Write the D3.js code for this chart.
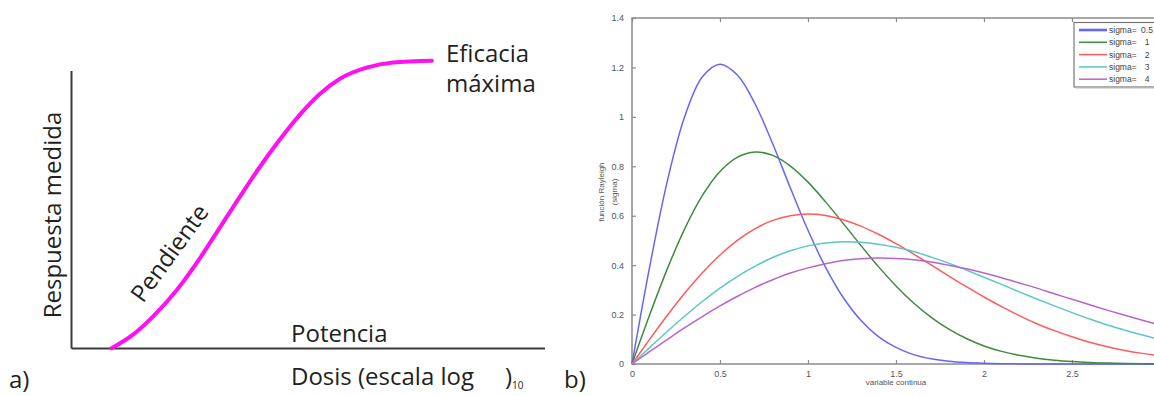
<!DOCTYPE html>
<html>
<head>
<meta charset="utf-8">
<script src="https://cdn.jsdelivr.net/npm/d3@7"></script>
<style>
  body { margin: 0; background: #fff; }
  svg { display: block; }
</style>
</head>
<body>
<div id="chart"></div>
<script>
// ---- panel a: curva dosis-respuesta (unidades arbitrarias 0..100)
const dosis = [8.45, 13.0, 17.2, 22.2, 27.1, 31.3, 35.6, 39.8, 44.0, 48.2, 52.5, 56.7, 62.3, 67.9, 76.1];
const respuesta = [0.1, 5.0, 11.5, 21.0, 32.5, 43.5, 54.8, 65.5, 75.3, 84.2, 91.8, 97.2, 101.2, 103.1, 103.7];

// ---- panel b: funcion Rayleigh
const variable = [0, 0.1, 0.2, 0.3, 0.4, 0.5, 0.6, 0.7, 0.8, 0.9, 1.0, 1.1, 1.2, 1.3, 1.4, 1.5,
  1.6, 1.7, 1.8, 1.9, 2.0, 2.1, 2.2, 2.3, 2.4, 2.5, 2.6, 2.7, 2.8, 2.9, 3.0];
const sigma05 = [0, 0.392, 0.738, 1.002, 1.162, 1.213, 1.168, 1.051, 0.890, 0.712, 0.541, 0.391, 0.269, 0.177, 0.111, 0.067,
  0.038, 0.021, 0.011, 0.0056, 0.0027, 0.0012, 0.0005, 0.0002, 0.0001, 0, 0, 0, 0, 0, 0];
const sigma1 = [0, 0.198, 0.384, 0.548, 0.682, 0.779, 0.837, 0.858, 0.844, 0.801, 0.736, 0.656, 0.569, 0.480, 0.394, 0.316,
  0.247, 0.189, 0.141, 0.103, 0.073, 0.051, 0.035, 0.023, 0.015, 0.0097, 0.006, 0.0037, 0.0022, 0.0013, 0.0007];
const sigma2 = [0, 0.0995, 0.196, 0.287, 0.369, 0.441, 0.501, 0.548, 0.581, 0.600, 0.6065, 0.601, 0.584, 0.558, 0.525, 0.487,
  0.445, 0.401, 0.356, 0.313, 0.271, 0.232, 0.196, 0.163, 0.135, 0.110, 0.088, 0.070, 0.055, 0.043, 0.033];
const sigma3 = [0, 0.0664, 0.1316, 0.194, 0.253, 0.307, 0.355, 0.396, 0.431, 0.458, 0.478, 0.490, 0.495, 0.493, 0.485, 0.472,
  0.455, 0.4325, 0.408, 0.380, 0.351, 0.322, 0.292, 0.263, 0.235, 0.208, 0.182, 0.158, 0.137, 0.117, 0.0996];
const sigma4 = [0, 0.0499, 0.099, 0.147, 0.192, 0.235, 0.274, 0.310, 0.341, 0.368, 0.389, 0.406, 0.419, 0.426, 0.429, 0.427,
  0.422, 0.413, 0.400, 0.385, 0.368, 0.349, 0.328, 0.307, 0.284, 0.262, 0.240, 0.218, 0.197, 0.177, 0.158];
const leyenda = ['0.5', '1', '2', '3', '4'];
const colores = ['#6666f6', '#3f8a3f', '#ff5b5b', '#5cc6c6', '#b864cc'];
const xTicks = [0, 0.5, 1, 1.5, 2, 2.5];
const yTicks = [0, 0.2, 0.4, 0.6, 0.8, 1, 1.2, 1.4];

const width = 1154;
const height = 396;

const svg = d3.select('#chart').append('svg')
  .attr('width', width)
  .attr('height', height);

svg.append('rect').attr('width', width).attr('height', height).attr('fill', '#fff');

// ================= panel a =================
const fontA = "'Open Sans', 'Noto Sans', sans-serif";
const xa = d3.scaleLinear().domain([0, 100]).range([71.5, 545]);
const ya = d3.scaleLinear().domain([0, 100]).range([348.5, 71]);

const ga = svg.append('g');

ga.append('line')
  .attr('x1', xa(0)).attr('x2', xa(0))
  .attr('y1', ya(100)).attr('y2', ya(0))
  .attr('stroke', '#3a3a3a').attr('stroke-width', 2);
ga.append('line')
  .attr('x1', xa(0)).attr('x2', xa(100))
  .attr('y1', ya(0)).attr('y2', ya(0))
  .attr('stroke', '#3a3a3a').attr('stroke-width', 2);

const lineA = d3.line()
  .x((d, i) => xa(dosis[i]))
  .y(d => ya(d))
  .curve(d3.curveMonotoneX);

ga.append('path')
  .datum(respuesta)
  .attr('fill', 'none')
  .attr('stroke', '#ff10f0')
  .attr('stroke-width', 4)
  .attr('stroke-linecap', 'round')
  .attr('d', lineA);

const textA = (x, y, s, size) => ga.append('text')
  .attr('x', x).attr('y', y)
  .attr('font-family', fontA)
  .attr('font-size', size)
  .attr('fill', '#231f20')
  .text(s);

textA(446, 61.5, 'Eficacia', 24);
textA(446, 91.5, 'máxima', 24);
textA(291, 341.5, 'Potencia', 24);
textA(291, 385, 'Dosis (escala log', 24);
textA(505, 385, ')', 24);
textA(512, 389, '10', 10);
textA(9, 388, 'a)', 24);

ga.append('text')
  .attr('transform', 'translate(61,215) rotate(-90)')
  .attr('text-anchor', 'middle')
  .attr('font-family', fontA)
  .attr('font-size', 24)
  .attr('fill', '#231f20')
  .text('Respuesta medida');

ga.append('text')
  .attr('transform', 'translate(143,304) rotate(-54)')
  .attr('font-family', fontA)
  .attr('font-size', 24)
  .attr('fill', '#231f20')
  .text('Pendiente');

textA(564, 388, 'b)', 24);

// ================= panel b =================
const fontB = "'Liberation Sans', Arial, sans-serif";
const xb = d3.scaleLinear().domain([0, 3]).range([632, 1160]);
const yb = d3.scaleLinear().domain([0, 1.4]).range([364, 18]);

const gb = svg.append('g');
const axisCol = '#8a8a8a';

const styleAxis = g => {
  g.select('.domain').remove();
  g.selectAll('.tick line').attr('stroke', axisCol).attr('stroke-width', 1.2);
  g.selectAll('.tick text')
    .attr('fill', '#555')
    .attr('font-family', fontB)
    .attr('font-size', 9);
};

gb.append('g')
  .attr('transform', `translate(0,${yb(0)})`)
  .call(d3.axisBottom(xb).tickValues(xTicks).tickSize(-4).tickPadding(7).tickFormat(d3.format('~g')))
  .call(styleAxis);

gb.append('g')
  .attr('transform', `translate(0,${yb(1.4)})`)
  .call(d3.axisTop(xb).tickValues(xTicks).tickSize(-4).tickFormat(''))
  .call(styleAxis);

gb.append('g')
  .attr('transform', `translate(${xb(0)},0)`)
  .call(d3.axisLeft(yb).tickValues(yTicks).tickSize(-4).tickPadding(8).tickFormat(d3.format('~g')))
  .call(styleAxis);

gb.append('rect')
  .attr('x', xb(0)).attr('y', yb(1.4))
  .attr('width', xb(3) - xb(0)).attr('height', yb(0) - yb(1.4))
  .attr('fill', 'none')
  .attr('stroke', axisCol)
  .attr('stroke-width', 1.5);

const series = [sigma05, sigma1, sigma2, sigma3, sigma4];

const lineB = d3.line()
  .x((d, i) => xb(variable[i]))
  .y(d => yb(d))
  .curve(d3.curveCatmullRom);

gb.append('g')
  .attr('fill', 'none')
  .attr('stroke-width', 1.5)
  .attr('stroke-linejoin', 'round')
  .selectAll('path')
  .data(series)
  .join('path')
  .attr('stroke', (d, i) => colores[i])
  .attr('d', lineB);

// leyenda
const lg = gb.append('g');
lg.append('rect')
  .attr('x', 1074).attr('y', 22.5)
  .attr('width', 90).attr('height', 64.5)
  .attr('fill', '#fff')
  .attr('stroke', '#777')
  .attr('stroke-width', 1.2);
lg.append('line')
  .attr('x1', 1075.5).attr('x2', 1164).attr('y1', 88).attr('y2', 88)
  .attr('stroke', '#bbb').attr('stroke-width', 1);

leyenda.forEach((s, i) => {
  const y = 30 + i * 12.3;
  lg.append('line')
    .attr('x1', 1079).attr('x2', 1107)
    .attr('y1', y).attr('y2', y)
    .attr('stroke', colores[i])
    .attr('stroke-width', i === 0 ? 2.6 : 1.5);
  lg.append('text')
    .attr('x', 1109).attr('y', y + 3)
    .attr('font-family', fontB).attr('font-size', 8.5)
    .attr('fill', '#444')
    .text('sigma=');
  lg.append('text')
    .attr('x', 1147).attr('y', y + 3)
    .attr('text-anchor', 'middle')
    .attr('font-family', fontB).attr('font-size', 8.5)
    .attr('fill', '#444')
    .text(s);
});

gb.append('text')
  .attr('x', xb(1.5)).attr('y', 385)
  .attr('text-anchor', 'middle')
  .attr('font-family', fontB).attr('font-size', 8)
  .attr('fill', '#555')
  .text('variable continua');

gb.append('text')
  .attr('transform', 'translate(604,192) rotate(-90)')
  .attr('text-anchor', 'middle')
  .attr('font-family', fontB).attr('font-size', 8)
  .attr('fill', '#555')
  .text('función Rayleigh');

gb.append('text')
  .attr('transform', 'translate(617,192) rotate(-90)')
  .attr('text-anchor', 'middle')
  .attr('font-family', fontB).attr('font-size', 8)
  .attr('fill', '#555')
  .text('(sigma)');
</script>
</body>
</html>
